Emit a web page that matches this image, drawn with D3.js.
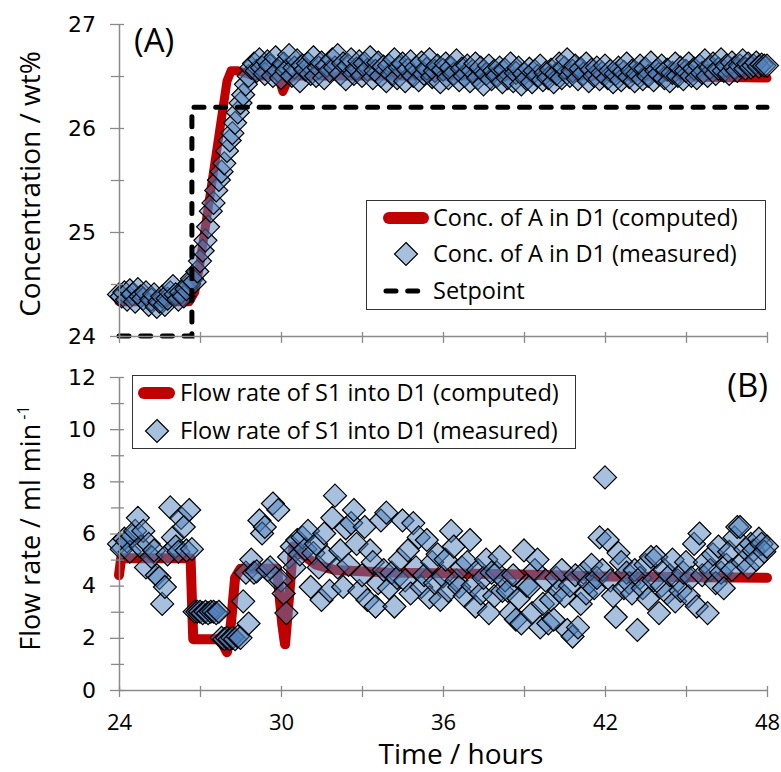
<!DOCTYPE html>
<html><head><meta charset="utf-8">
<script src="https://cdn.jsdelivr.net/npm/d3@7"></script>
<style>
body{margin:0;background:#fff;}
svg{display:block;}
</style>
</head><body>
<svg id="chart" width="781" height="772"></svg>
<script>
// ---------- DATA ----------
const timeStart = 24, timeStep = 0.1;       // sampling grid of the measured series (hours)
const xTicksMajor = [24, 30, 36, 42, 48];
const xTicksAll = [24, 27, 30, 33, 36, 39, 42, 45, 48];
const yTopTicks = [24, 25, 26, 27];
const yTopMinor = [24.5, 25.5, 26.5];
const yBotTicks = [0, 2, 4, 6, 8, 10, 12];
const yBotMinor = [1, 3, 5, 7, 9, 11];

// Panel A: concentration of A in D1 (wt%)
const concMeasured = [
 24.40,24.38,24.42,24.35,24.44,24.40,24.33,24.45,24.38,24.36,
 24.42,24.30,24.35,24.40,24.28,24.33,24.38,24.30,24.36,24.42,
 24.48,24.40,24.35,24.42,24.38,24.45,24.50,24.55,24.52,24.62,
 24.72,24.82,24.92,25.05,25.20,25.28,25.40,25.50,25.58,25.66,
 25.78,25.88,25.95,26.05,26.15,26.24,26.32,26.42,26.50,26.58,
 26.62,26.55,26.66,26.58,26.52,26.64,26.60,26.50,26.68,26.55,
 26.48,26.62,26.55,26.70,26.50,26.58,26.65,26.45,26.60,26.56,
 26.62,26.52,26.68,26.50,26.58,26.63,26.48,26.60,26.55,26.66,
 26.58,26.70,26.52,26.62,26.47,26.60,26.66,26.52,26.57,26.64,
 26.50,26.62,26.56,26.68,26.48,26.55,26.63,26.50,26.59,26.45,
 26.60,26.52,26.66,26.48,26.58,26.62,26.45,26.56,26.64,26.50,
 26.58,26.46,26.63,26.52,26.57,26.66,26.49,26.55,26.60,26.44,
 26.56,26.62,26.48,26.58,26.52,26.65,26.46,26.57,26.50,26.60,
 26.45,26.55,26.62,26.48,26.58,26.42,26.52,26.60,26.47,26.55,
 26.50,26.58,26.44,26.56,26.48,26.62,26.45,26.53,26.58,26.42,
 26.52,26.47,26.57,26.44,26.55,26.50,26.60,26.46,26.53,26.48,
 26.56,26.44,26.52,26.62,26.48,26.58,26.66,26.50,26.55,26.60,
 26.47,26.57,26.52,26.62,26.45,26.56,26.50,26.58,26.47,26.53,
 26.60,26.48,26.55,26.44,26.52,26.58,26.46,26.54,26.62,26.49,
 26.55,26.45,26.52,26.60,26.47,26.57,26.50,26.63,26.46,26.55,
 26.52,26.60,26.48,26.56,26.45,26.53,26.62,26.50,26.58,26.47,
 26.55,26.62,26.50,26.57,26.48,26.60,26.53,26.65,26.50,26.58,
 26.62,26.52,26.57,26.66,26.55,26.60,26.52,26.63,26.58,26.55,
 26.60,26.65,26.57,26.62,26.58,26.60,26.63,26.59,26.61,26.60,
 26.60
];
const concComputedT = [24, 26.6, 26.8, 27.0, 28.0, 28.15, 28.4, 29.0, 29.9, 30.07, 30.25, 30.5, 36, 42, 48];
const concComputedV = [24.33, 24.33, 24.42, 24.70, 26.45, 26.55, 26.55, 26.50, 26.50, 26.35, 26.46, 26.50, 26.50, 26.50, 26.48];
const setpointT = [24, 26.7, 26.7, 48];
const setpointV = [24.0, 24.0, 26.2, 26.2];

// Panel B: flow rate of S1 into D1 (ml/min)
const flowMeasured = [
 5.6,5.4,5.8,5.7,5.3,5.9,6.1,6.6,5.5,6.1,
 4.7,5.6,5.1,5.35,4.4,4.3,3.3,3.95,5.2,7.0,
 5.85,5.5,5.3,6.6,6.25,5.35,6.9,5.4,3.0,3.0,
 3.0,2.95,3.0,2.95,3.0,3.0,2.95,3.0,2.0,1.95,
 2.0,1.95,2.0,1.95,2.05,2.0,3.4,4.5,2.55,5.0,
 4.5,4.55,6.5,6.0,6.25,4.6,4.7,7.15,4.3,6.9,
 4.2,3.7,2.95,5.1,5.5,4.7,5.75,5.2,5.85,5.4,
 6.1,3.95,5.25,5.6,4.7,3.45,6.0,5.1,3.8,6.6,
 7.45,4.7,5.35,3.95,6.2,4.8,6.4,6.9,5.6,3.8,
 4.4,6.25,3.45,5.35,4.9,3.2,4.1,6.5,4.6,6.8,
 3.9,4.5,3.2,4.3,5.0,6.5,4.2,5.35,3.7,6.4,
 4.7,5.85,3.95,4.4,5.75,3.55,4.9,4.1,5.2,3.45,
 4.35,5.0,3.8,6.1,5.5,4.2,3.95,4.7,3.6,4.9,
 5.75,4.0,3.2,4.6,3.7,4.3,5.0,2.95,4.5,3.6,
 4.5,5.1,3.8,4.2,3.8,2.95,4.4,2.7,3.5,2.55,
 5.35,4.0,3.95,2.95,4.6,5.0,2.4,3.3,4.2,2.55,
 3.45,2.7,4.3,3.8,4.6,3.6,2.3,4.0,2.05,4.4,
 2.4,3.3,4.5,3.7,4.1,4.8,3.9,4.3,5.85,4.6,
 8.15,5.75,4.2,3.6,2.8,5.25,4.9,3.9,4.5,4.1,
 3.7,4.6,2.3,4.3,3.9,4.8,3.5,5.1,4.2,5.1,
 2.95,4.0,4.6,3.7,4.4,5.0,3.4,4.2,3.8,4.5,
 4.9,3.6,4.3,5.6,3.2,6.0,4.4,4.9,2.95,4.6,
 5.2,4.1,5.5,4.5,3.9,4.8,5.3,4.6,5.85,6.25,
 6.25,4.9,5.4,4.7,5.6,5.35,5.0,5.8,5.6,5.3,
 5.5
];
const flowComputedT = [24, 24.08, 26.65, 26.75, 27.75, 28.0, 28.15, 28.3, 28.5, 29.85, 30.05, 30.15, 30.3, 30.45, 30.8, 31.3, 32, 34, 38, 42, 48];
const flowComputedV = [4.4, 5.05, 5.05, 1.95, 1.95, 1.45, 2.6, 4.3, 4.65, 4.65, 2.5, 1.75, 3.6, 5.5, 5.2, 4.8, 4.6, 4.5, 4.45, 4.35, 4.3];

const legendA = ["Conc. of A in D1 (computed)", "Conc. of A in D1 (measured)", "Setpoint"];
const legendB = ["Flow rate of S1 into D1 (computed)", "Flow rate of S1 into D1 (measured)"];

// ---------- STYLE ----------
const RED = "#C00000", BLUE = "#4F81BD", AXIS = "#8a8a8a";
const FONT = "'Open Sans', sans-serif";
const TICKFONT = "'DejaVu Sans', sans-serif";

const svg = d3.select("#chart");
const x = d3.scaleLinear().domain([24, 48]).range([119, 767]);
const yA = d3.scaleLinear().domain([24, 27]).range([336, 24]);
const yB = d3.scaleLinear().domain([0, 12]).range([690, 377]);

const tOf = i => timeStart + i * timeStep;
const concPts = concMeasured.map((v, i) => [tOf(i), v]);
const flowPts = flowMeasured.map((v, i) => [tOf(i), v]);

function diamondPath(cx, cy, r) {
  return `M${cx},${cy - r}L${cx + r},${cy}L${cx},${cy + r}L${cx - r},${cy}Z`;
}
const R = 11.5;

function yAxis(g, y, ticks, minor) {
  const ax = d3.axisLeft(y).tickValues(ticks).tickSizeInner(9).tickSizeOuter(0).tickPadding(14)
    .tickFormat(d3.format("d"));
  g.call(ax);
  g.select(".domain").attr("stroke", AXIS).attr("stroke-width", 1.5);
  g.selectAll(".tick line").attr("stroke", AXIS).attr("stroke-width", 1.3).attr("x1", 5);
  g.selectAll(".tick text").attr("font-family", TICKFONT).attr("font-size", 22).attr("fill", "#000");
  const axm = d3.axisLeft(y).tickValues(minor).tickSizeInner(8).tickSizeOuter(0).tickFormat("");
  const gm = g.append("g").call(axm);
  gm.select(".domain").remove();
  gm.selectAll(".tick line").attr("stroke", AXIS).attr("stroke-width", 1.3).attr("x1", 5);
}
function xAxis(g, labelled) {
  const ax = d3.axisBottom(x).tickValues(xTicksAll).tickSizeInner(7).tickSizeOuter(0).tickPadding(17)
    .tickFormat(d => (labelled && xTicksMajor.includes(d)) ? d : "");
  g.call(ax);
  g.select(".domain").attr("stroke", AXIS).attr("stroke-width", 1.5);
  g.selectAll(".tick line").attr("stroke", AXIS).attr("stroke-width", 1.3).attr("y1", -4);
  g.selectAll(".tick text").attr("font-family", FONT).attr("font-size", 22).attr("fill", "#000");
}

// ---------- PANEL A ----------
const gA = svg.append("g");
const lineA = d3.line().x(d => x(d[0])).y(d => yA(d[1]));
gA.append("path")
  .attr("d", lineA(concComputedT.map((t, i) => [t, concComputedV[i]])))
  .attr("fill", "none").attr("stroke", RED).attr("stroke-width", 9)
  .attr("stroke-linejoin", "round").attr("stroke-linecap", "round");
gA.append("g").selectAll("path").data(concPts).join("path")
  .attr("d", d => diamondPath(x(d[0]), yA(d[1]), R))
  .attr("fill", BLUE).attr("fill-opacity", 0.5)
  .attr("stroke", "#000").attr("stroke-width", 1.2);
gA.append("path")
  .attr("d", lineA(setpointT.map((t, i) => [t, setpointV[i]])))
  .attr("fill", "none").attr("stroke", "#000").attr("stroke-width", 5)
  .attr("stroke-dasharray", "10,11.7").attr("stroke-linecap", "round");

yAxis(svg.append("g").attr("transform", "translate(119,0)"), yA, yTopTicks, yTopMinor);
xAxis(svg.append("g").attr("transform", "translate(0,336)"), false);

// ---------- PANEL B ----------
const gB = svg.append("g");
const lineB = d3.line().x(d => x(d[0])).y(d => yB(d[1]));
gB.append("path")
  .attr("d", lineB(flowComputedT.map((t, i) => [t, flowComputedV[i]])))
  .attr("fill", "none").attr("stroke", RED).attr("stroke-width", 10)
  .attr("stroke-linejoin", "round").attr("stroke-linecap", "round");
gB.append("g").selectAll("path").data(flowPts).join("path")
  .attr("d", d => diamondPath(x(d[0]), yB(d[1]), R))
  .attr("fill", BLUE).attr("fill-opacity", 0.5)
  .attr("stroke", "#000").attr("stroke-width", 1.2);

yAxis(svg.append("g").attr("transform", "translate(119,0)"), yB, yBotTicks, yBotMinor);
xAxis(svg.append("g").attr("transform", "translate(0,690)"), true);

// ---------- LEGEND A ----------
const lgA = svg.append("g");
lgA.append("rect").attr("x", 366.5).attr("y", 200.5).attr("width", 399).attr("height", 109)
  .attr("fill", "#fff").attr("stroke", "#333").attr("stroke-width", 1);
const rowsA = [218, 254, 291];
lgA.append("line").attr("x1", 389).attr("x2", 423).attr("y1", rowsA[0]).attr("y2", rowsA[0])
  .attr("stroke", RED).attr("stroke-width", 12).attr("stroke-linecap", "round");
lgA.append("path").attr("d", diamondPath(406, rowsA[1], R))
  .attr("fill", BLUE).attr("fill-opacity", 0.5).attr("stroke", "#000").attr("stroke-width", 1.2);
lgA.append("line").attr("x1", 386).attr("x2", 426).attr("y1", rowsA[2]).attr("y2", rowsA[2])
  .attr("stroke", "#000").attr("stroke-width", 5).attr("stroke-dasharray", "10,11.7").attr("stroke-linecap", "round");
lgA.selectAll("text").data(legendA).join("text")
  .attr("x", 433).attr("y", (d, i) => rowsA[i]).attr("dy", "0.35em")
  .attr("font-family", FONT).attr("font-size", 23.5).text(d => d);

// ---------- LEGEND B ----------
const lgB = svg.append("g");
lgB.append("rect").attr("x", 132.5).attr("y", 375.5).attr("width", 443).attr("height", 73)
  .attr("fill", "#fff").attr("stroke", "#333").attr("stroke-width", 1);
const rowsB = [393, 431];
lgB.append("line").attr("x1", 144).attr("x2", 169).attr("y1", rowsB[0]).attr("y2", rowsB[0])
  .attr("stroke", RED).attr("stroke-width", 12).attr("stroke-linecap", "round");
lgB.append("path").attr("d", diamondPath(157, rowsB[1], R))
  .attr("fill", BLUE).attr("fill-opacity", 0.5).attr("stroke", "#000").attr("stroke-width", 1.2);
lgB.selectAll("text").data(legendB).join("text")
  .attr("x", 180).attr("y", (d, i) => rowsB[i]).attr("dy", "0.35em")
  .attr("font-family", FONT).attr("font-size", 23.5).text(d => d);

// ---------- LABELS ----------
svg.append("text").attr("x", 134).attr("y", 52).attr("font-family", FONT).attr("font-size", 33).text("(A)");
svg.append("text").attr("x", 768).attr("y", 397).attr("text-anchor", "end")
  .attr("font-family", FONT).attr("font-size", 33).text("(B)");
svg.append("text").attr("transform", "translate(40,184) rotate(-90)").attr("text-anchor", "middle")
  .attr("font-family", FONT).attr("font-size", 28).text("Concentration / wt%");
const fl = svg.append("text").attr("transform", "translate(40,528) rotate(-90)").attr("text-anchor", "middle")
  .attr("font-family", FONT).attr("font-size", 27);
fl.append("tspan").text("Flow rate / ml min");
fl.append("tspan").attr("dy", -11).attr("font-size", 16).text(" -1");
svg.append("text").attr("x", 461).attr("y", 764).attr("text-anchor", "middle")
  .attr("font-family", FONT).attr("font-size", 28).text("Time / hours");
</script>
</body></html>
